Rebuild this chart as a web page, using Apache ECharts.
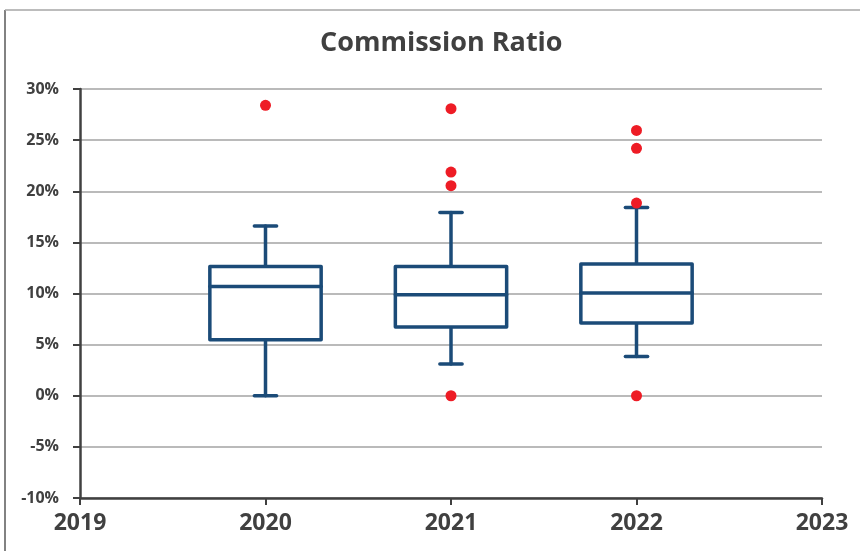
<!DOCTYPE html>
<html>
<head>
<meta charset="utf-8">
<script src="https://cdn.jsdelivr.net/npm/echarts@6/dist/echarts.min.js"></script>
<style>html,body{margin:0;padding:0;background:#fff}#c{width:860px;height:551px}</style>
</head>
<body>
<div id="c"></div>
<script>
// Data (percent units)
const years = [2020, 2021, 2022];
const whiskerLow = [0.0, 3.1, 3.85];
const q1 = [5.48, 6.72, 7.11];
const median = [10.69, 9.88, 10.04];
const q3 = [12.65, 12.65, 12.88];
const whiskerHigh = [16.6, 17.93, 18.42];
const outlierYears = [2020, 2021, 2021, 2021, 2021, 2022, 2022, 2022, 2022];
const outlierValues = [28.4, 28.07, 21.88, 20.54, 0.0, 25.95, 24.2, 18.84, 0.0];
const yTicks = { min: -10, max: 30, step: 5 };
const xTicks = { min: 2019, max: 2023, step: 1 };

const boxData = years.map((y, i) => [y, whiskerLow[i], q1[i], median[i], q3[i], whiskerHigh[i]]);
const outlierData = outlierYears.map((y, i) => [y, outlierValues[i]]);

const BOX = '#1B4B78';
const TXT = '#404040';
const FONT = '"Open Sans", "Liberation Sans", sans-serif';

const chart = echarts.init(document.getElementById('c'), null, { renderer: 'canvas' });
chart.setOption({
  backgroundColor: '#fff',
  animation: false,
  title: {
    text: 'Commission Ratio', left: 315, top: 25,
    textStyle: { fontFamily: FONT, fontWeight: 'bold', fontSize: 27, color: TXT }
  },
  graphic: [
    { type: 'line', shape: { x1: 5, y1: 10, x2: 5, y2: 560 }, style: { stroke: '#595959', lineWidth: 1.5 } },
    { type: 'line', shape: { x1: 5, y1: 10, x2: 870, y2: 10 }, style: { stroke: '#A6A6A6', lineWidth: 1.5 } }
  ],
  grid: { left: 80, right: 38, top: 89, bottom: 53 },
  xAxis: {
    type: 'value', min: xTicks.min, max: xTicks.max, interval: xTicks.step,
    axisLine: { onZero: false, lineStyle: { color: TXT, width: 2.5 } },
    axisTick: { show: true, length: 7, lineStyle: { color: TXT, width: 2 } },
    splitLine: { show: false },
    axisLabel: { formatter: v => String(v), fontFamily: FONT, fontWeight: 'bold', fontSize: 23, color: TXT, margin: 14 }
  },
  yAxis: {
    type: 'value', min: yTicks.min, max: yTicks.max, interval: yTicks.step,
    axisLine: { show: true, lineStyle: { color: TXT, width: 2.5 } },
    axisTick: { show: true, length: 7, lineStyle: { color: TXT, width: 2 } },
    splitLine: { show: true, lineStyle: { color: '#BABABA', width: 1.8 } },
    axisLabel: { formatter: '{value}%', fontFamily: FONT, fontWeight: 'bold', fontSize: 16, color: TXT, margin: 21 }
  },
  series: [
    {
      type: 'custom',
      z: 3,
      data: boxData,
      renderItem: function (params, api) {
        const x = api.value(0);
        const lo = api.coord([x, api.value(1)]);
        const b1 = api.coord([x, api.value(2)]);
        const md = api.coord([x, api.value(3)]);
        const b3 = api.coord([x, api.value(4)]);
        const hi = api.coord([x, api.value(5)]);
        const hw = api.size([0.6, 0])[0] / 2;
        const cw = api.size([0.12, 0])[0] / 2;
        const st = { stroke: BOX, lineWidth: 3.5, fill: null, lineCap: 'round', lineJoin: 'round' };
        const cx = b1[0];
        return {
          type: 'group',
          children: [
            { type: 'line', shape: { x1: cx, y1: b3[1], x2: cx, y2: hi[1] }, style: st },
            { type: 'line', shape: { x1: cx, y1: b1[1], x2: cx, y2: lo[1] }, style: st },
            { type: 'line', shape: { x1: cx - cw, y1: hi[1], x2: cx + cw, y2: hi[1] }, style: st },
            { type: 'line', shape: { x1: cx - cw, y1: lo[1], x2: cx + cw, y2: lo[1] }, style: st },
            { type: 'rect', shape: { x: cx - hw, y: b3[1], width: hw * 2, height: b1[1] - b3[1] }, style: { stroke: BOX, lineWidth: 3.5, fill: '#fff', lineJoin: 'round' } },
            { type: 'line', shape: { x1: cx - hw, y1: md[1], x2: cx + hw, y2: md[1] }, style: st }
          ]
        };
      }
    },
    {
      type: 'scatter', z: 5,
      data: outlierData,
      symbol: 'circle', symbolSize: 11,
      itemStyle: { color: '#EE1C25', opacity: 1 }
    }
  ]
});
</script>
</body>
</html>
